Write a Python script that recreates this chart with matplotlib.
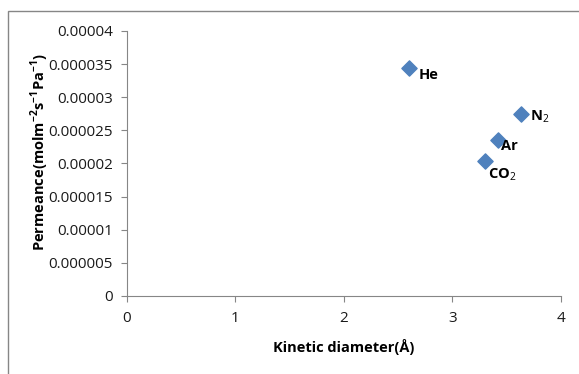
import matplotlib.pyplot as plt
from matplotlib.patches import Rectangle

# kinetic diameter (Å) vs permeance
gases = ["He", "CO$_2$", "Ar", "N$_2$"]
diameter = [2.6, 3.3, 3.42, 3.63]
permeance = [3.44e-5, 2.03e-5, 2.36e-5, 2.75e-5]
label_offsets = [(10, -7), (3, -13), (3, -6), (9, -3)]

y_ticks = [0, 0.000005, 0.00001, 0.000015, 0.00002, 0.000025, 0.00003, 0.000035, 0.00004]
y_tick_labels = ["0", "0.000005", "0.00001", "0.000015", "0.00002", "0.000025", "0.00003", "0.000035", "0.00004"]
x_ticks = [0, 1, 2, 3, 4]

plt.rcParams["font.family"] = ["Open Sans", "DejaVu Sans"]
plt.rcParams["mathtext.fontset"] = "custom"
plt.rcParams["mathtext.rm"] = "Open Sans"
plt.rcParams["mathtext.bf"] = "Open Sans:bold"

fig = plt.figure(figsize=(5.79, 3.74), dpi=100)
ax = fig.add_axes([0.2193, 0.2086, 0.7496, 0.7086])

ax.scatter(diameter, permeance, marker="D", s=60, color="#4F81BD", zorder=3)
for name, x, y, off in zip(gases, diameter, permeance, label_offsets):
    ax.annotate(name, (x, y), xytext=off, textcoords="offset pixels",
                ha="left", va="center", fontsize=10.5, fontweight="bold")

ax.set_xlim(0, 4)
ax.set_ylim(0, 0.00004)
ax.set_xticks(x_ticks)
ax.set_yticks(y_ticks)
ax.set_yticklabels(y_tick_labels)
ax.tick_params(axis="both", labelsize=11, colors="#868686", labelcolor="#1a1a1a", length=4, width=0.8)
ax.tick_params(axis="y", pad=6)
ax.tick_params(axis="x", pad=7)

for side in ["top", "right"]:
    ax.spines[side].set_visible(False)
for side in ["left", "bottom"]:
    ax.spines[side].set_color("#868686")
    ax.spines[side].set_linewidth(0.8)

ax.set_xlabel("Kinetic diameter(Å)", fontsize=10.5, fontweight="bold", labelpad=9)
ax.set_ylabel(r"Permeance(molm$^{\mathbf{-2}}$s$^{\mathbf{-1}}$Pa$^{\mathbf{-1}}$)",
              fontsize=10.5, fontweight="bold")
ax.yaxis.set_label_coords(-0.176, 0.543)

# chart frame (only left and top edges show)
fig.patches.append(Rectangle((8 / 579, -0.1), 1.2, 1.1 - 11 / 374, transform=fig.transFigure,
                             fill=False, edgecolor="#868686", linewidth=1))

fig.savefig("out.png", dpi=100)
